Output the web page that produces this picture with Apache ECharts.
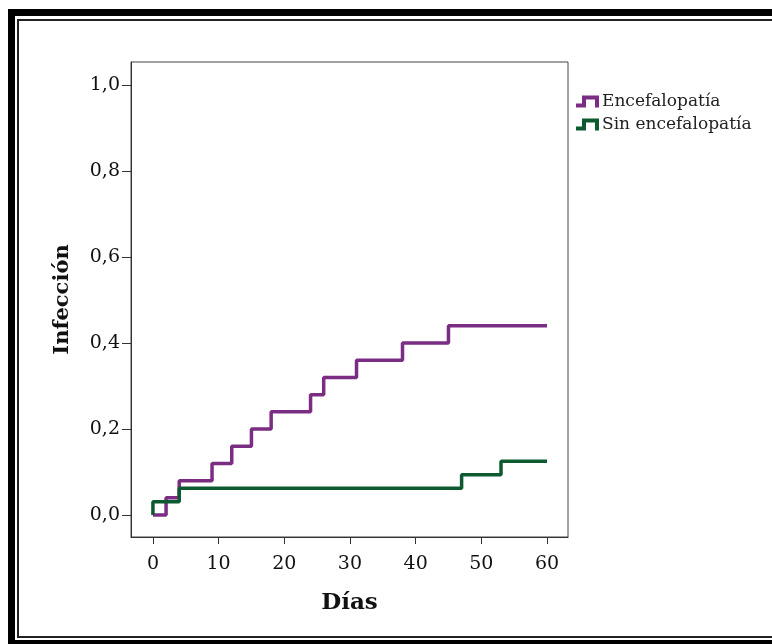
<!DOCTYPE html>
<html>
<head>
<meta charset="utf-8">
<script src="https://cdn.jsdelivr.net/npm/echarts@6/dist/echarts.min.js"></script>
<style>
html,body{margin:0;padding:0;background:#fff;}
#chart{width:772px;height:644px;}
</style>
</head>
<body>
<div id="chart"></div>
<script>
// Data
const seriesNames = ['Encefalopatía', 'Sin encefalopatía'];
const encefalopatiaDays = [0, 2, 4, 9, 12, 15, 18, 24, 26, 31, 38, 45, 60];
const encefalopatiaValues = [0, 0.04, 0.08, 0.12, 0.16, 0.20, 0.24, 0.28, 0.32, 0.36, 0.40, 0.44, 0.44];
const sinEncefalopatiaDays = [0, 0, 4, 47, 53, 60];
const sinEncefalopatiaValues = [0, 0.03125, 0.0625, 0.09375, 0.125, 0.125];
const xTickValues = [0, 10, 20, 30, 40, 50, 60];
const yTickValues = [0, 0.2, 0.4, 0.6, 0.8, 1.0];
const xTitle = 'Días';
const yTitle = 'Infección';

const toPairs = (xs, ys) => xs.map((x, i) => [x, ys[i]]);

const serif = '"DejaVu Serif", "Liberation Serif", serif';
const chart = echarts.init(document.getElementById('chart'), null, {renderer: 'canvas'});

const stepIcon = 'path://M0,8 L6,8 L6,0 L23,0 L23,12 L19,12 L19,4 L10,4 L10,12 L0,12 Z';

chart.setOption({
  animation: false,
  backgroundColor: '#fff',
  grid: {
    left: 131, top: 62, right: 204, bottom: 107,
    show: true, borderColor: '#444', borderWidth: 1, backgroundColor: 'transparent'
  },
  legend: {
    orient: 'vertical',
    left: 571, top: 88,
    itemWidth: 23, itemHeight: 12, itemGap: 6,
    itemStyle: {borderWidth: 0},
    textStyle: {fontFamily: serif, fontSize: 17, color: '#222', padding: [0,0,0,-2]},
    data: [
      {name: seriesNames[0], icon: stepIcon},
      {name: seriesNames[1], icon: stepIcon}
    ]
  },
  xAxis: {
    type: 'value', min: -3.34, max: 63.2,
    name: xTitle, nameLocation: 'middle', nameGap: 55,
    nameTextStyle: {fontFamily: serif, fontSize: 23, fontWeight: 'bold', color: '#111'},
    axisLine: {show: true, onZero: false, lineStyle: {color: '#333', width: 1}},
    axisTick: {show: true, customValues: xTickValues, length: 7, lineStyle: {color: '#333'}},
    axisLabel: {customValues: xTickValues, fontFamily: serif, fontSize: 19, color: '#111', margin: 18},
    splitLine: {show: false}
  },
  yAxis: {
    type: 'value', min: -0.051, max: 1.0535,
    name: yTitle, nameLocation: 'middle', nameGap: 58, nameRotate: 90,
    nameTextStyle: {fontFamily: serif, fontSize: 21, fontWeight: 'bold', color: '#111'},
    axisLine: {show: true, onZero: false, lineStyle: {color: '#333', width: 1}},
    axisTick: {show: true, customValues: yTickValues, length: 9, lineStyle: {color: '#333'}},
    axisLabel: {customValues: yTickValues, fontFamily: serif, fontSize: 19, color: '#111', margin: 11,
      padding: [8, 0, 0, 0],
      formatter: v => v.toFixed(1).replace('.', ',')},
    splitLine: {show: false}
  },
  series: [
    {
      name: seriesNames[0], type: 'line', step: 'end', showSymbol: false, symbol: 'none',
      data: toPairs(encefalopatiaDays, encefalopatiaValues),
      lineStyle: {color: '#7B2D83', width: 3.5}, itemStyle: {color: '#7B2D83'}, z: 2
    },
    {
      name: seriesNames[1], type: 'line', step: 'end', showSymbol: false, symbol: 'none',
      data: toPairs(sinEncefalopatiaDays, sinEncefalopatiaValues),
      lineStyle: {color: '#0D5A30', width: 3.5}, itemStyle: {color: '#0D5A30'}, z: 3
    }
  ],
  graphic: [
    {type: 'rect', silent: true, shape: {x: 11.5, y: 12.5, width: 800, height: 631},
      style: {fill: 'none', stroke: '#000', lineWidth: 7}},
    {type: 'rect', silent: true, shape: {x: 18, y: 20, width: 800, height: 617},
      style: {fill: 'none', stroke: '#222', lineWidth: 2}}
  ]
});
</script>
</body>
</html>
